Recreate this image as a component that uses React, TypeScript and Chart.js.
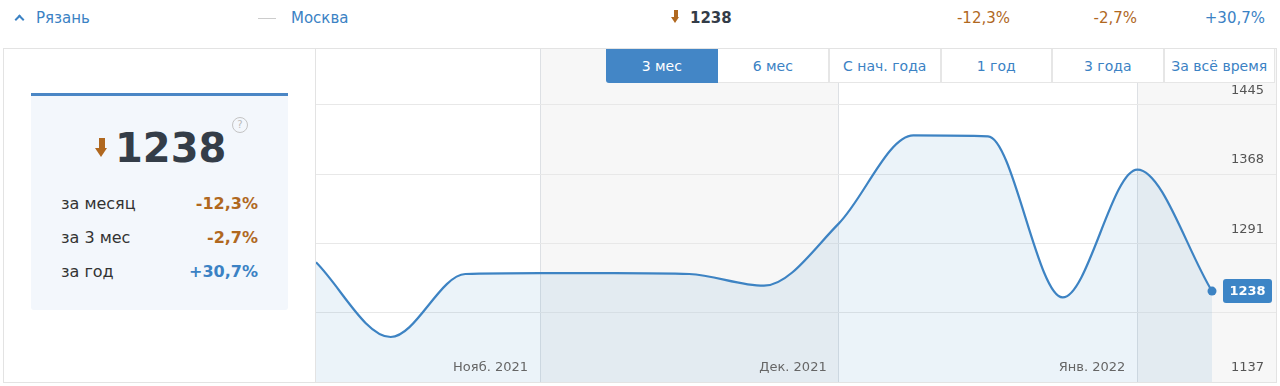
import React, { useEffect, useRef } from 'react';
import { Chart, registerables } from 'chart.js';

Chart.register(...registerables);

// ---- data ----
const categories = ['11.10', '18.10', '25.10', '01.11', '08.11', '15.11', '22.11', '01.12', '08.12', '15.12', '22.12', '01.01', '08.01'];
const values = [1270, 1187, 1257, 1258, 1258, 1257, 1244, 1313, 1411, 1410, 1231, 1373, 1238];
const yTicks = [1137, 1214, 1291, 1368, 1445];
const monthIndex = [3, 7, 11];
const monthLabels = ['Нояб. 2021', 'Дек. 2021', 'Янв. 2022'];
const periodButtons = ['3 мес', '6 мес', 'С нач. года', '1 год', '3 года', 'За всё время'];
const changeLabels = ['за месяц', 'за 3 мес', 'за год'];
const changeValues = ['-12,3%', '-2,7%', '+30,7%'];
const currentValue = '1238';
const regionName = 'Рязань';
const compareName = 'Москва';

const FONT = '"DejaVu Sans", Verdana, sans-serif';
const BLUE = '#3b82c4';
const BROWN = '#b0681f';
const LINE = '#3d83c3';

const colorFor = (s: string) => (s.startsWith('+') ? BLUE : BROWN);

const Arrow = ({ left, top, scale }: { left: number; top: number; scale: number }) => (
  <div style={{ position: 'absolute', left, top, width: 13 * scale, height: 19 * scale }}>
    <div style={{ position: 'absolute', left: 3.5 * scale, top: 0, width: 6 * scale, height: 10 * scale, background: BROWN }} />
    <div
      style={{
        position: 'absolute',
        left: 0,
        top: 9.5 * scale,
        width: 0,
        height: 0,
        borderLeft: `${6.5 * scale}px solid transparent`,
        borderRight: `${6.5 * scale}px solid transparent`,
        borderTop: `${9.5 * scale}px solid ${BROWN}`,
      }}
    />
  </div>
);

export default function App() {
  const canvasRef = useRef<HTMLCanvasElement | null>(null);

  useEffect(() => {
    document.body.style.margin = '0';
    const canvas = canvasRef.current;
    if (!canvas) return;
    const last = values.length - 1;

    const bandsPlugin = {
      id: 'bands',
      beforeDraw(chart: any) {
        const { ctx, chartArea, scales } = chart;
        const xs = scales.x;
        const bounds = [xs.min, ...monthIndex, xs.max];
        ctx.save();
        for (let i = 0; i < bounds.length - 1; i++) {
          if (i % 2 === 1) {
            const x0 = xs.getPixelForValue(bounds[i]);
            const x1 = xs.getPixelForValue(bounds[i + 1]);
            ctx.fillStyle = '#f7f7f7';
            ctx.fillRect(x0, chartArea.top, x1 - x0, chartArea.bottom - chartArea.top);
          }
        }
        ctx.restore();
      },
    };

    const overlayPlugin = {
      id: 'overlay',
      afterDraw(chart: any) {
        const { ctx, chartArea, scales } = chart;
        const xs = scales.x;
        const ys = scales.y;
        ctx.save();
        ctx.font = `13px ${FONT}`;
        ctx.fillStyle = '#666';
        ctx.textAlign = 'right';
        ctx.textBaseline = 'middle';
        monthIndex.forEach((m, i) => {
          ctx.fillText(monthLabels[i], xs.getPixelForValue(m) - 12, chartArea.bottom - 14);
        });
        // badge
        const y = ys.getPixelForValue(values[last]);
        const w = 49;
        const h = 24;
        const bx = chartArea.right - 4 - w;
        const by = y - h / 2;
        ctx.fillStyle = '#3d85c6';
        ctx.beginPath();
        (ctx as any).roundRect(bx, by, w, h, 3);
        ctx.fill();
        ctx.fillStyle = '#fff';
        ctx.font = `bold 13px ${FONT}`;
        ctx.textAlign = 'center';
        ctx.fillText(String(values[last]), bx + w / 2, y + 0.5);
        ctx.restore();
      },
    };

    const chart = new Chart(canvas, {
      type: 'line',
      data: {
        labels: categories,
        datasets: [
          {
            data: values.map((v, i) => ({ x: i, y: v })),
            borderColor: LINE,
            borderWidth: 2.2,
            backgroundColor: 'rgba(61,133,198,0.1)',
            fill: 'start',
            cubicInterpolationMode: 'monotone',
            pointRadius: (c: any) => (c.dataIndex === last ? 4.5 : 0),
            pointBackgroundColor: LINE,
            pointBorderWidth: 0,
            clip: false,
          } as any,
        ],
      },
      options: {
        animation: false,
        responsive: false,
        maintainAspectRatio: false,
        layout: { padding: 0, autoPadding: false },
        plugins: { legend: { display: false }, tooltip: { enabled: false } },
        scales: {
          x: {
            type: 'linear',
            min: 0,
            max: 12.857,
            afterBuildTicks: (axis: any) => {
              axis.ticks = monthIndex.map((v) => ({ value: v }));
            },
            afterFit: (axis: any) => {
              axis.height = 0;
              axis.paddingLeft = 0;
              axis.paddingRight = 0;
              axis.paddingTop = 0;
              axis.paddingBottom = 0;
            },
            grid: { color: '#dde0e4', drawTicks: false },
            border: { display: false },
            ticks: { display: false },
          },
          y: {
            position: 'right',
            min: 1137,
            max: 1507,
            afterBuildTicks: (axis: any) => {
              axis.ticks = yTicks.map((v) => ({ value: v }));
            },
            afterFit: (axis: any) => {
              axis.width = 0;
              axis.paddingLeft = 0;
              axis.paddingRight = 0;
              axis.paddingTop = 0;
              axis.paddingBottom = 0;
            },
            grid: { color: '#e8e8e8', drawTicks: false },
            border: { display: false },
            ticks: {
              mirror: true,
              padding: -12,
              labelOffset: -14,
              color: '#555',
              font: { family: FONT, size: 13 },
              callback: (v: any) => String(v),
            },
          },
        },
      },
      plugins: [bandsPlugin, overlayPlugin],
    });
    return () => chart.destroy();
  }, []);

  const btnW = 111.5;

  return (
    <div style={{ position: 'relative', width: 1280, height: 386, fontFamily: FONT, background: '#fff', overflow: 'hidden' }}>
      {/* header */}
      <div
        style={{
          position: 'absolute',
          left: 16,
          top: 16,
          width: 5,
          height: 5,
          borderLeft: `2px solid ${BLUE}`,
          borderTop: `2px solid ${BLUE}`,
          transform: 'rotate(45deg)',
        }}
      />
      <div style={{ position: 'absolute', left: 36, top: 8, fontSize: 15, lineHeight: '20px', color: BLUE }}>{regionName}</div>
      <div style={{ position: 'absolute', left: 258, top: 18, width: 18, height: 1, background: '#ccc' }} />
      <div style={{ position: 'absolute', left: 291, top: 8, fontSize: 15, lineHeight: '20px', color: BLUE }}>{compareName}</div>
      <Arrow left={671} top={10} scale={0.72} />
      <div style={{ position: 'absolute', left: 690, top: 8, fontSize: 15, lineHeight: '20px', color: '#333c48', fontWeight: 'bold' }}>
        {currentValue}
      </div>
      {[1010, 1137, 1265].map((r, i) => (
        <div
          key={i}
          style={{ position: 'absolute', right: 1280 - r, top: 8, fontSize: 15, lineHeight: '20px', color: colorFor(changeValues[i]) }}
        >
          {changeValues[i]}
        </div>
      ))}

      {/* outer box */}
      <div
        style={{
          position: 'absolute',
          left: 3,
          top: 48,
          width: 1272,
          height: 333,
          border: '1px solid #e3e3e3',
        }}
      />
      <div style={{ position: 'absolute', left: 315, top: 49, width: 1, height: 333, background: '#e3e3e3' }} />

      {/* card */}
      <div
        style={{
          position: 'absolute',
          left: 31,
          top: 93,
          width: 257,
          height: 214,
          background: '#f3f7fc',
          borderTop: '3px solid #4a86c5',
          borderRadius: '0 0 3px 3px',
        }}
      />
      <Arrow left={95} top={138} scale={1} />
      <div
        style={{
          position: 'absolute',
          left: 115,
          top: 123,
          fontSize: 40,
          lineHeight: '50px',
          fontWeight: 'bold',
          color: '#343d48',
        }}
      >
        {currentValue}
      </div>
      <div
        style={{
          position: 'absolute',
          left: 232,
          top: 117,
          width: 14,
          height: 14,
          borderRadius: '50%',
          border: '1px solid #c4c4c4',
          color: '#bbb',
          fontSize: 10,
          lineHeight: '14px',
          textAlign: 'center',
        }}
      >
        ?
      </div>
      {changeLabels.map((l, i) => (
        <React.Fragment key={l}>
          <div style={{ position: 'absolute', left: 61, top: 194 + i * 34, fontSize: 16, lineHeight: '20px', color: '#333' }}>{l}</div>
          <div
            style={{
              position: 'absolute',
              right: 1280 - 258,
              top: 194 + i * 34,
              fontSize: 16,
              lineHeight: '20px',
              fontWeight: 'bold',
              color: colorFor(changeValues[i]),
            }}
          >
            {changeValues[i]}
          </div>
        </React.Fragment>
      ))}

      {/* chart */}
      <canvas
        ref={canvasRef}
        width={960}
        height={333}
        style={{ position: 'absolute', left: 316, top: 49, width: 960, height: 333 }}
      />

      {/* period buttons */}
      {periodButtons.map((b, i) => {
        const sel = i === 0;
        return (
          <div
            key={b}
            style={{
              position: 'absolute',
              left: 606 + i * btnW,
              top: 49,
              width: btnW,
              height: 34,
              boxSizing: 'border-box',
              border: sel ? 'none' : '1px solid #e6e6e6',
              borderLeft: sel || i === 1 ? 'none' : '1px solid #e6e6e6',
              borderTop: 'none',
              background: sel ? '#4386c6' : '#fff',
              color: sel ? '#fff' : BLUE,
              borderRadius: sel ? '0 0 0 3px' : 0,
              fontSize: 14,
              lineHeight: '34px',
              textAlign: 'center',
            }}
          >
            {b}
          </div>
        );
      })}
    </div>
  );
}
